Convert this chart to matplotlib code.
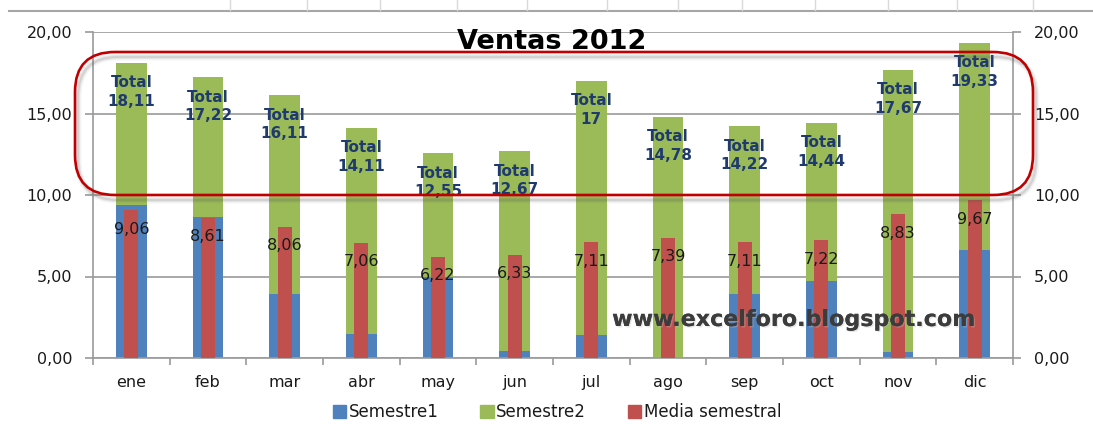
#!/usr/bin/env python3
''' Ventas 2012: stacked semester bars with semester average
'''

#
# import statements
#

import numpy as np
import matplotlib
matplotlib.use('Agg')
from matplotlib import pyplot
from matplotlib.patches import FancyBboxPatch, Patch
from matplotlib.ticker import FuncFormatter, FixedLocator
from matplotlib.lines import Line2D
import matplotlib.patheffects as pe

#
# data
#

meses = ['ene', 'feb', 'mar', 'abr', 'may', 'jun',
         'jul', 'ago', 'sep', 'oct', 'nov', 'dic']
semestre1 = [9.40, 8.65, 3.93, 1.47, 4.95, 0.45, 1.39, 0.00, 3.93, 4.70, 0.39, 6.63]
semestre2 = [8.71, 8.57, 12.18, 12.64, 7.60, 12.22, 15.61, 14.78, 10.29, 9.74, 17.28, 12.70]
media = [9.06, 8.61, 8.06, 7.06, 6.22, 6.33, 7.11, 7.39, 7.11, 7.22, 8.83, 9.67]
totales = [18.11, 17.22, 16.11, 14.11, 12.55, 12.67, 17.00, 14.78, 14.22, 14.44, 17.67, 19.33]

#
# functions
#

def coma(v, decimals=2):
    return '{:.{}f}'.format(v, decimals).replace('.', ',')


def coma_g(v):
    return '{:g}'.format(v).replace('.', ',')


#
# main
#

if __name__ == '__main__':

    azul = '#4F81BD'
    verde = '#9BBB59'
    rojo = '#C0504D'
    gris = '#9a9a9a'
    navy = '#1F3A6E'

    W, H = 1093, 429
    fig = pyplot.figure(figsize=(W / 100, H / 100), dpi=100)
    ax = fig.add_axes([93 / W, 1 - 358 / H, 920 / W, 326 / H])

    x = np.arange(len(meses))
    ax.bar(x, semestre1, width=0.40, color=azul, zorder=2)
    ax.bar(x, semestre2, width=0.40, bottom=semestre1, color=verde, zorder=2)
    ax.bar(x, media, width=0.18, color=rojo, zorder=3)

    # data labels
    for i, (t, m) in enumerate(zip(totales, media)):
        ax.annotate('Total\n' + coma_g(t), xy=(i, t), xytext=(0, -21),
                    textcoords='offset points', ha='center', va='center',
                    fontsize=11, fontweight='bold', color=navy,
                    linespacing=1.3, zorder=5)
        ax.annotate(coma(m), xy=(i, m), xytext=(0, -13.7),
                    textcoords='offset points', ha='center', va='center',
                    fontsize=11.5, color='#1a1a1a', zorder=5)

    # axes
    ax.set_xlim(-0.5, len(meses) - 0.5)
    ax.set_ylim(0, 20)
    ax.set_yticks([0, 5, 10, 15, 20])
    ax.yaxis.set_major_formatter(FuncFormatter(lambda v, p: coma(v)))
    ax.set_xticks(x)
    ax.set_xticklabels(meses)
    ax.xaxis.set_minor_locator(FixedLocator(np.arange(-0.5, len(meses), 1.0)))
    ax.tick_params(axis='x', which='major', length=0, pad=12, labelsize=11.5,
                   labelcolor='#1a1a1a')
    ax.tick_params(axis='x', which='minor', length=5, width=1.2, color=gris,
                   direction='out')
    ax.tick_params(axis='y', length=6, width=1.2, color=gris, pad=9,
                   labelsize=11.5, labelcolor='#1a1a1a')
    ax.grid(axis='y', color=gris, linewidth=1.2, zorder=0)
    ax.set_axisbelow(True)
    for s in ['top', 'right']:
        ax.spines[s].set_visible(False)
    for s in ['left', 'bottom']:
        ax.spines[s].set_color(gris)
        ax.spines[s].set_linewidth(1.2)

    ax2 = ax.twinx()
    ax2.set_ylim(ax.get_ylim())
    ax2.set_yticks([0, 5, 10, 15, 20])
    ax2.yaxis.set_major_formatter(FuncFormatter(lambda v, p: coma(v)))
    ax2.tick_params(axis='y', length=6, width=1.2, color=gris, pad=9,
                    labelsize=11.5, labelcolor='#1a1a1a')
    for s in ['top', 'left', 'bottom']:
        ax2.spines[s].set_visible(False)
    ax2.spines['right'].set_color(gris)
    ax2.spines['right'].set_linewidth(1.2)

    # title
    fig.text(552 / W, 1 - 42 / H, 'Ventas 2012', ha='center', va='center',
             fontsize=19.5, fontweight='bold', color='black', zorder=6)

    # watermark
    fig.text(794 / W, 1 - 320 / H, 'www.excelforo.blogspot.com',
             ha='center', va='center', fontsize=16, fontweight='bold',
             color='#3c3c3c', zorder=6,
             path_effects=[pe.withSimplePatchShadow(offset=(1, -1),
                                                    shadow_rgbFace='#bbbbbb',
                                                    alpha=0.35),
                           pe.Normal()])

    # rounded highlight box with soft shadow
    box = (0.75, (H - 195) / 100, 9.58, 1.43)
    for lw, a in [(5, 0.06), (3, 0.10), (1.5, 0.12)]:
        sh = FancyBboxPatch((box[0] + 0.03, box[1] - 0.05), box[2], box[3],
                            boxstyle='round,pad=0,rounding_size=0.4',
                            transform=fig.dpi_scale_trans, fill=False,
                            edgecolor='#555555', linewidth=lw, alpha=a,
                            zorder=6)
        fig.add_artist(sh)
    rect = FancyBboxPatch(box[:2], box[2], box[3],
                          boxstyle='round,pad=0,rounding_size=0.4',
                          transform=fig.dpi_scale_trans, fill=False,
                          edgecolor='#C00000', linewidth=1.9, zorder=7)
    fig.add_artist(rect)

    # spreadsheet cell borders above the chart
    fig.add_artist(Line2D([9 / W, 1], [1 - 10.5 / H] * 2, color='#a6a6a6',
                          linewidth=1.5, transform=fig.transFigure))
    for xc in [230, 307, 380, 457, 527, 607, 678, 742, 815, 888, 957, 1033]:
        fig.add_artist(Line2D([xc / W] * 2, [1, 1 - 10 / H], color='#d9d9d9',
                              linewidth=1, transform=fig.transFigure))

    # legend
    handles = [Patch(color=azul, label='Semestre1'),
               Patch(color=verde, label='Semestre2'),
               Patch(color=rojo, label='Media semestral')]
    fig.legend(handles=handles, loc='center', ncol=3, frameon=False,
               bbox_to_anchor=(557 / W, 1 - 412 / H), fontsize=12,
               handlelength=0.8, handleheight=0.8, handletextpad=0.15,
               columnspacing=2.5, labelcolor='#1a1a1a')

    fig.savefig('out.png', dpi=100)
